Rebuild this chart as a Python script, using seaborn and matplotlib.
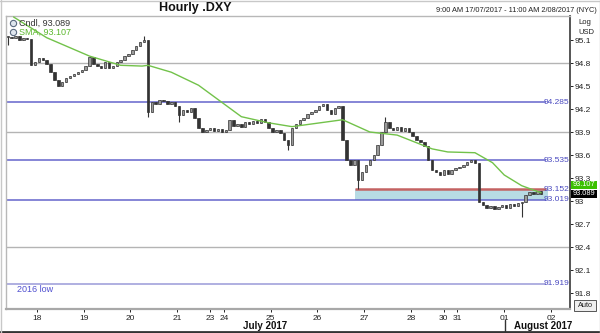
import numpy as np
import pandas as pd
import matplotlib
matplotlib.use("Agg")
import matplotlib.pyplot as plt
import seaborn as sns
from matplotlib.patches import Rectangle
from matplotlib.lines import Line2D

# ---------------- data ----------------
# 2-hourly closes, first candle at 9:00 AM 17/07/2017 (hour -15 relative to 18 Jul 00:00)
start_hour = -15
step_hours = 2
closes = [
    95.14, 95.13, 95.15, 95.10, 95.13, 95.11,
    94.78,
    94.81, 94.87, 94.84, 94.79,
    94.68, 94.58, 94.50,
    94.55,
    94.60, 94.63, 94.66, 94.68, 94.71, 94.76, 94.88,
    94.79, 94.76, 94.73, 94.81, 94.73, 94.76,
    94.81, 94.84, 94.89, 94.92, 94.97, 95.02, 95.07,
    95.10,
    94.16,
    94.29, 94.27, 94.32, 94.30, 94.27, 94.29, 94.24,
    94.12,
    94.19, 94.16, 94.21,
    94.08, 93.95, 93.90,
    93.93, 93.95, 93.91, 93.94, 93.90, 93.93,
    94.06,
    93.98, 94.01, 93.97, 94.03, 94.01, 94.05, 94.02, 94.07, 94.03,
    93.95, 93.90, 93.93, 93.89,
    93.80, 93.73,
    93.95, 94.01, 94.06, 94.08, 94.13, 94.16, 94.19, 94.24, 94.27,
    94.19, 94.13, 94.21, 94.24,
    93.80,
    93.54, 93.47, 93.54,
    93.27,
    93.38, 93.47, 93.54,
    93.60, 93.73, 93.90,
    94.03,
    93.95, 93.93, 93.97, 93.91, 93.95, 93.90,
    93.85, 93.80, 93.77, 93.72,
    93.54, 93.40,
    93.38, 93.34, 93.40, 93.35,
    93.40, 93.43, 93.44, 93.47, 93.51, 93.53, 93.49,
    92.99,
    92.95, 92.91, 92.94, 92.90, 92.92,
    92.95, 92.91, 92.96, 92.94, 92.97, 92.99,
    93.08, 93.12, 93.09, 93.13, 93.089,
]
# extra wick extremes: index -> (low, high)
wick_index = [0, 35, 36, 44, 72, 90, 97, 132]
wick_low = [95.03, 95.07, 94.10, 94.03, 93.67, 93.16, 93.90, 92.79]
wick_high = [95.15, 95.15, 95.10, 94.24, 93.80, 93.54, 94.10, 92.99]

# SMA keypoints (hour, value)
sma_hours = [-12, 5, 27, 43, 54, 57, 69, 83, 105, 119, 131, 157, 171, 185, 203, 211, 225, 234, 240, 249, 259]
sma_values = [95.40, 95.13, 94.89, 94.77, 94.76, 94.77, 94.68, 94.51, 94.10, 94.02, 93.97,
              94.06, 93.90, 93.86, 93.68, 93.64, 93.63, 93.50, 93.34, 93.20, 93.107]

day_tick_hours = [0, 24, 48, 72, 89, 96, 120, 144, 168, 192, 209, 216, 240, 264]
day_tick_labels = ["18", "19", "20", "21", "23", "24", "25", "26", "27", "28", "30", "31", "01", "02"]

y_ticks = [95.1, 94.8, 94.5, 94.2, 93.9, 93.6, 93.3, 93.0, 92.7, 92.4, 92.1, 91.8]
y_tick_labels = ["95.1", "94.8", "94.5", "94.2", "93.9", "93.6", "93.3", "93", "92.7", "92.4", "92.1", "91.8"]

grid_levels = [94.8, 93.9, 92.4]
blue_levels = [94.285, 93.535, 93.019, 91.919]
blue_labels = ["94.285", "93.535", "93.019", "91.919"]
red_level = 93.152
red_label = "93.152"
band_low, band_high = 93.019, 93.152
band_start_hour = 163.3

last_close_label = "93.089"
last_sma_label = "93.107"

# ---------------- style ----------------
sns.set_theme(style="white")
plt.rcParams['font.family'] = ['Liberation Sans', 'DejaVu Sans']

W, H = 600, 333
fig = plt.figure(figsize=(6, 3.33), dpi=100)
fig.patch.set_facecolor("white")

def fx(x):
    return x / W

def fy(y):
    return 1 - y / H

ax = fig.add_axes([fx(6), fy(309), fx(570) - fx(6), fy(16) - fy(309)])
ax.set_facecolor("white")

x_left, x_right = -15.9, 273.8
ax.set_xlim(x_left, x_right)
ax.set_ylim(91.592, 95.413)

# gridlines (grey)
for lv in grid_levels:
    ax.axhline(lv, color="#b4b4b4", lw=1.0, zorder=1)

line_end = 261.4
blue = "#6464cc"
# band
ax.fill_between([band_start_hour, 262.5], band_low, band_high, color="#b7dbe4", lw=0, zorder=1.5)
for lv, lb in zip(blue_levels, blue_labels):
    ax.hlines(lv, x_left, line_end, color=blue if lv != 91.919 else "#9a9ad8", lw=1.1, zorder=2)
    ax.text(0.9985, lv, lb, transform=ax.get_yaxis_transform(), ha="right", va="center",
            fontsize=6, color="#4a4ac0", zorder=6)
ax.hlines(red_level, band_start_hour, line_end, color="#c46262", lw=1.8, zorder=2)
ax.text(0.9985, red_level, red_label, transform=ax.get_yaxis_transform(), ha="right", va="center",
        fontsize=6, color="#4a4ac0", zorder=6)

# candles
n = len(closes)
hours = np.array([start_hour + step_hours * i for i in range(n)], dtype=float)
c = np.array(closes)
o = np.concatenate([[c[0]], c[:-1]])
lo = np.minimum(o, c)
hi = np.maximum(o, c)
for k, l, h in zip(wick_index, wick_low, wick_high):
    lo[k] = min(lo[k], l)
    hi[k] = max(hi[k], h)
ax.vlines(hours, lo, hi, color="#333333", lw=0.8, zorder=3)
body_bottom = np.minimum(o, c)
body_h = np.maximum(np.abs(c - o), 0.012)
up = c >= o
ax.bar(hours[up], body_h[up], bottom=body_bottom[up], width=1.25, color="#9a9a9a",
       edgecolor="#333333", linewidth=0.5, zorder=4)
ax.bar(hours[~up], body_h[~up], bottom=body_bottom[~up], width=1.25, color="#333333",
       edgecolor="#333333", linewidth=0.5, zorder=4)

# SMA
sma_df = pd.DataFrame({"hour": sma_hours, "sma": sma_values})
sns.lineplot(data=sma_df, x="hour", y="sma", ax=ax, color="#72c24a", lw=1.0, zorder=5, sort=True)
ax.set_xlabel("")
ax.set_ylabel("")

# axes ticks
ax.yaxis.tick_right()
ax.set_yticks(y_ticks)
ax.set_yticklabels(y_tick_labels)
ax.tick_params(axis="y", which="both", right=True, left=False, direction="out", length=2.5,
               width=0.7, pad=1, labelsize=6, colors="#222222")
ax.set_xticks(day_tick_hours)
ax.set_xticklabels(day_tick_labels)
ax.tick_params(axis="x", bottom=True, direction="out", length=2, width=0.7, pad=2,
               labelsize=6, colors="#222222")

for s in ["left", "top"]:
    ax.spines[s].set_color("#b8b8b8")
    ax.spines[s].set_linewidth(1.0)
ax.spines["right"].set_color("#555555")
ax.spines["right"].set_linewidth(1.4)
ax.spines["bottom"].set_color("#a8a8a8")
ax.spines["bottom"].set_linewidth(1.6)
ax.grid(False)

# legend (top-left)
for yy in [23, 32]:
    fig.add_artist(Line2D([fx(13)], [fy(yy)], marker="o", ms=4.5, mfc="#dfe6ee", mec="#5a6a80",
                          mew=0.8, transform=fig.transFigure, zorder=10))
fig.text(fx(19), fy(23), "Cndl, " + last_close_label, fontsize=6.5, color="#333333", va="center", zorder=10)
fig.text(fx(19), fy(32), "SMA, " + last_sma_label, fontsize=6.5, color="#5cb82e", va="center", zorder=10)

fig.text(fx(17), fy(290), "2016 low", fontsize=6.5, color="#5050d0", va="center")

# titles
fig.text(fx(195), fy(8), "Hourly .DXY", fontsize=9, fontweight="bold", ha="center", va="center", color="#111111")
fig.text(fx(597), fy(10), "9:00 AM 17/07/2017 - 11:00 AM 2/08/2017 (NYC)", fontsize=5.3,
         ha="right", va="center", color="#222222")
fig.text(fx(578), fy(22), "Log", fontsize=5.5, ha="left", va="center", color="#222222")
fig.text(fx(578), fy(32), "USD", fontsize=5.5, ha="left", va="center", color="#222222")

# last value tags
fig.add_artist(Rectangle((fx(571), fy(189)), fx(26), fy(180.5) - fy(189), transform=fig.transFigure,
                         facecolor="#3cc000", edgecolor="none", zorder=10))
fig.text(fx(584), fy(184.8), last_sma_label, fontsize=5.3, color="white", ha="center", va="center", zorder=11)
fig.add_artist(Rectangle((fx(571), fy(198)), fx(26), fy(189.5) - fy(198), transform=fig.transFigure,
                         facecolor="black", edgecolor="none", zorder=10))
fig.text(fx(584), fy(193.8), last_close_label, fontsize=5.3, color="white", ha="center", va="center", zorder=11)

# Auto button
fig.add_artist(Rectangle((fx(574), fy(311)), fx(22), fy(300) - fy(311), transform=fig.transFigure,
                         facecolor="#eeeeee", edgecolor="#555555", lw=0.7, zorder=10))
fig.text(fx(585), fy(305.5), "Auto", fontsize=5.3, color="#222222", ha="center", va="center", zorder=11)

# month labels
fig.text(fx(265), fy(326), "July 2017", fontsize=7, fontweight="bold", ha="center", va="center", color="#111111")
fig.text(fx(543), fy(326), "August 2017", fontsize=7, fontweight="bold", ha="center", va="center", color="#111111")
fig.add_artist(Line2D([fx(505), fx(505)], [fy(320), fy(333)], color="#333333", lw=1.0,
                      transform=fig.transFigure))

# outer frame
fig.add_artist(Line2D([0, 1], [fy(332), fy(332)], color="#333333", lw=2.0, transform=fig.transFigure))
fig.add_artist(Line2D([0, 1], [fy(0.5), fy(0.5)], color="#c8c8c8", lw=1.0, transform=fig.transFigure))
fig.add_artist(Line2D([fx(0.5), fx(0.5)], [0, 1], color="#c8c8c8", lw=1.0, transform=fig.transFigure))
fig.add_artist(Line2D([fx(599.5), fx(599.5)], [0, 1], color="#c8c8c8", lw=1.0, transform=fig.transFigure))

fig.savefig("out.png", dpi=100)
